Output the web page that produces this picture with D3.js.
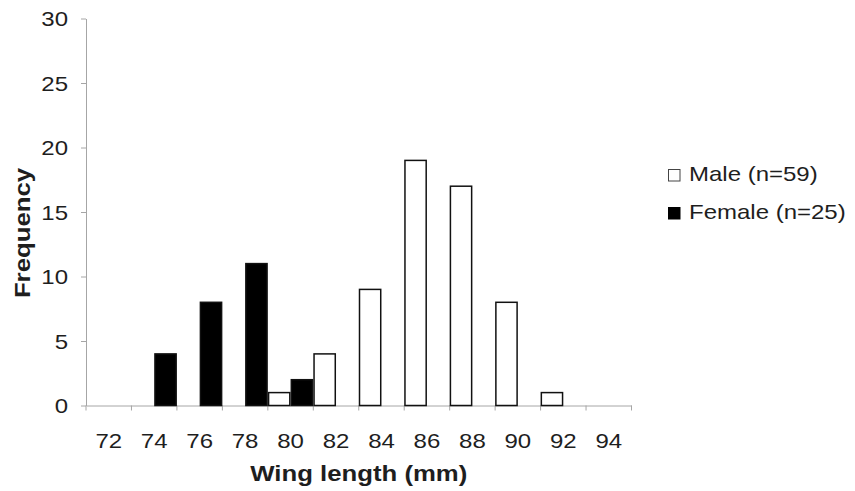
<!DOCTYPE html>
<html>
<head>
<meta charset="utf-8">
<script src="https://cdn.jsdelivr.net/npm/d3@7"></script>
<style>
  html, body { margin: 0; padding: 0; background: #fff; }
  svg { display: block; font-family: "Liberation Sans", Arial, sans-serif; }
</style>
</head>
<body>
<svg id="chart" width="855" height="491"></svg>
<script>
// Wing length classes (mm) and counts per sex
const categories = [72, 74, 76, 78, 80, 82, 84, 86, 88, 90, 92, 94];
const maleCounts = [0, 0, 0, 0, 1, 4, 9, 19, 17, 8, 1, 0];
const femaleCounts = [0, 4, 8, 11, 2, 0, 0, 0, 0, 0, 0, 0];
const yTicks = [0, 5, 10, 15, 20, 25, 30];
const seriesNames = ["Male", "Female"];
const legendLabels = ["Male (n=59)", "Female (n=25)"];

const svg = d3.select("#chart");
const axisColor = "#a6a6a6";
const textColor = "#1e1e1e";
const stretch = 1.2;      // wide lettering for regular labels
const stretchBold = 1.12; // wide lettering for titles

const x = d3.scaleBand().domain(categories).range([86, 631.5]).padding(0);
const xs = d3.scaleBand().domain(seriesNames).range([0, x.bandwidth()]).padding(0);
const y = d3.scaleLinear().domain([0, 30]).range([405.5, 18.5]);

// Y axis
const yAxis = svg.append("g")
  .attr("transform", `translate(${x.range()[0]},0)`)
  .call(d3.axisLeft(y).tickValues(yTicks).tickSize(5).tickSizeOuter(0));
yAxis.select(".domain").attr("stroke", axisColor);
yAxis.selectAll(".tick line").attr("stroke", axisColor);
yAxis.selectAll(".tick text")
  .attr("x", null).attr("dy", null)
  .attr("transform", `translate(-18,7) scale(${stretch},1)`)
  .attr("text-anchor", "end")
  .attr("font-size", 20)
  .attr("font-family", "Liberation Sans, Arial, sans-serif")
  .attr("fill", textColor);
// extend y axis line down to meet the category tick length
svg.append("line")
  .attr("x1", x.range()[0]).attr("x2", x.range()[0])
  .attr("y1", y(0)).attr("y2", y(0) + 5)
  .attr("stroke", axisColor);

// X axis labels at band centres
const xAxis = svg.append("g")
  .attr("transform", `translate(0,${y(0)})`)
  .call(d3.axisBottom(x).tickSize(0).tickSizeOuter(0));
xAxis.select(".domain").attr("stroke", axisColor);
xAxis.selectAll(".tick text")
  .attr("y", null).attr("dy", null)
  .attr("transform", `translate(0,42) scale(${stretch},1)`)
  .attr("font-size", 20)
  .attr("font-family", "Liberation Sans, Arial, sans-serif")
  .attr("fill", textColor);

// category boundary ticks
const bounds = categories.map(c => x(c)).concat([x.range()[1]]);
svg.append("g").selectAll("line").data(bounds.slice(1)).join("line")
  .attr("x1", d => d).attr("x2", d => d)
  .attr("y1", y(0)).attr("y2", y(0) + 5)
  .attr("stroke", axisColor);

// Bars
const rows = categories.map((c, i) => ({ c, Male: maleCounts[i], Female: femaleCounts[i] }));
const groups = svg.append("g").selectAll("g").data(rows).join("g")
  .attr("transform", d => `translate(${x(d.c)},0)`);
groups.selectAll("rect")
  .data(d => seriesNames.map(s => ({ s, v: d[s] })).filter(e => e.v > 0))
  .join("rect")
  .attr("x", d => xs(d.s) + 0.75)
  .attr("width", xs.bandwidth() - 1.5)
  .attr("y", d => y(d.v))
  .attr("height", d => y(0) - y(d.v))
  .attr("fill", d => d.s === "Male" ? "#ffffff" : "#000000")
  .attr("stroke", "#111")
  .attr("stroke-width", 1.5);

// Axis titles
svg.append("text")
  .attr("transform", `translate(${(x.range()[0] + x.range()[1]) / 2},481) scale(${stretchBold},1)`)
  .attr("text-anchor", "middle")
  .attr("font-size", 23)
  .attr("font-weight", "bold")
  .attr("fill", textColor)
  .text("Wing length (mm)");

svg.append("text")
  .attr("transform", `translate(30,233) rotate(-90) scale(${stretchBold},1)`)
  .attr("text-anchor", "middle")
  .attr("font-size", 23)
  .attr("font-weight", "bold")
  .attr("fill", textColor)
  .text("Frequency");

// Legend
const legend = svg.append("g").attr("transform", "translate(668,169)");
const items = legend.selectAll("g").data(seriesNames).join("g")
  .attr("transform", (d, i) => `translate(0,${i * 38})`);
items.append("rect")
  .attr("x", 0.5).attr("y", 0.5).attr("width", 11.5).attr("height", 11.5)
  .attr("fill", d => d === "Male" ? "#ffffff" : "#000000")
  .attr("stroke", d => d === "Male" ? "#444" : "#000")
  .attr("stroke-width", 1);
items.append("text")
  .attr("transform", `translate(21,12) scale(${stretch},1)`)
  .attr("font-size", 20)
  .attr("fill", textColor)
  .text((d, i) => legendLabels[i]);
</script>
</body>
</html>
